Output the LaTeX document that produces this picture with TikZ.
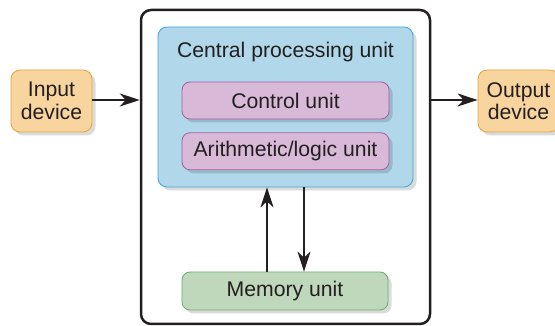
\documentclass[tikz,border=0pt]{standalone}
\usepackage{fontspec}
\setmainfont{Liberation Sans}
\usetikzlibrary{positioning,arrows.meta,calc,shadows}
\definecolor{InkDark}{RGB}{35,31,32}
\definecolor{CpuFill}{RGB}{176,216,234}
\definecolor{CpuLine}{RGB}{62,168,218}
\definecolor{UnitFill}{RGB}{216,185,216}
\definecolor{UnitLine}{RGB}{168,92,168}
\definecolor{MemFill}{RGB}{191,216,188}
\definecolor{MemLine}{RGB}{108,172,108}
\definecolor{IoFill}{RGB}{248,212,158}
\definecolor{IoLine}{RGB}{232,164,62}
\tikzset{
  flow/.style={-{Stealth[length=20pt,width=13pt,inset=6pt]},line width=1.6pt,draw=InkDark},
  boxtext/.style={font=\fontsize{21.2}{22.5}\selectfont,text=InkDark,align=center,inner sep=0pt},
  softshadow/.style={drop shadow={shadow xshift=3.5pt,shadow yshift=-3.5pt,fill=black,opacity=0.14}},
  frame/.style={draw=InkDark,line width=2.5pt,rounded corners=10pt,inner sep=0pt},
  cpubox/.style={draw=CpuLine,fill=CpuFill,line width=0.8pt,rounded corners=9pt,softshadow,inner sep=0pt},
  unitbox/.style={boxtext,draw=UnitLine,fill=UnitFill,line width=0.8pt,rounded corners=8pt,softshadow,
    minimum width=207pt,minimum height=37pt},
  membox/.style={boxtext,draw=MemLine,fill=MemFill,line width=0.8pt,rounded corners=8pt,softshadow,
    minimum width=206pt,minimum height=38pt},
  iobox/.style={boxtext,draw=IoLine,fill=IoFill,line width=0.8pt,rounded corners=9pt,softshadow,
    minimum width=81pt,minimum height=62pt}
}
\begin{document}
\begin{tikzpicture}[x=1pt,y=1pt]
  \useasboundingbox (0,0) rectangle (555,326);
  \clip (0,0) rectangle (555,326);
  \fill[white] (0,0) rectangle (555,326);
  \node[frame,minimum width=289pt,minimum height=314pt] (computer) at (285.5,159) {};
  \node[cpubox,minimum width=255pt,minimum height=160pt] (cpu) at (285.5,219) {};
  \node[boxtext] (cpulabel) at (285.5,274) {Central processing unit};
  \node[unitbox] (control) at (285.5,225.5) {Control unit};
  \node[unitbox,below=13pt of control] (alu) {Arithmetic/logic unit};
  \node[membox] (memory) at (285,35) {Memory unit};
  \node[iobox] (input) at (51.5,225) {Input\\device};
  \node[iobox] (output) at (518.5,225) {Output\\device};
  \draw[flow] (input.east |- 0,226) -- (computer.west |- 0,226);
  \draw[flow] (computer.east |- 0,226) -- (output.west |- 0,226);
  \draw[flow] ([xshift=-18pt]memory.north) -- ([xshift=-18pt]memory.north |- cpu.south);
  \draw[flow] ([xshift=19pt]memory.north |- cpu.south) -- ([xshift=19pt]memory.north);
\end{tikzpicture}
\end{document}
